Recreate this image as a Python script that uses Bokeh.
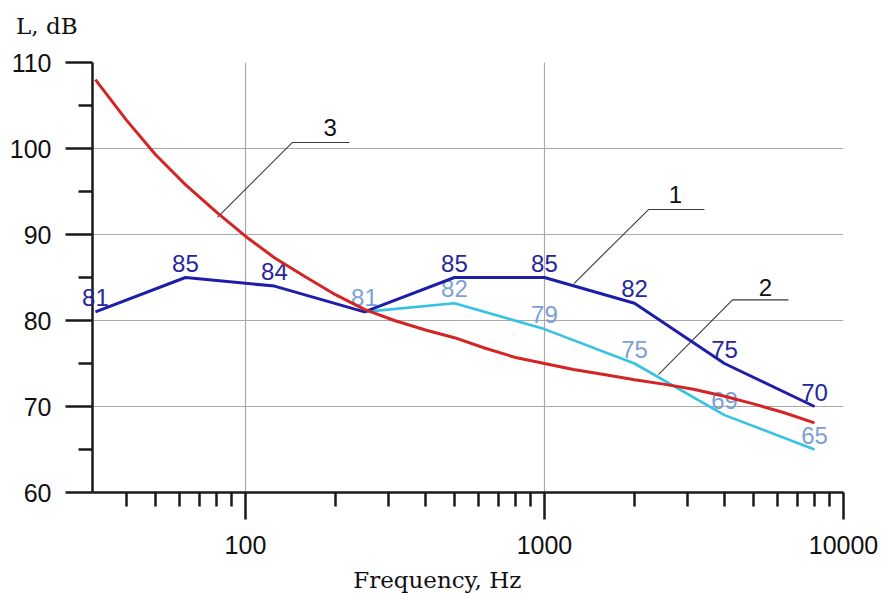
from bokeh.plotting import figure
from bokeh.models import (FixedTicker, BasicTickFormatter, ColumnDataSource,
                          LabelSet, Label, Range1d)
from bokeh.core.properties import value
from bokeh.embed import file_html
from bokeh.resources import INLINE

# ---- data -------------------------------------------------------------
# curve 1
freq_1 = [31.5, 63, 125, 250, 500, 1000, 2000, 4000, 8000]
level_1 = [81, 85, 84, 81, 85, 85, 82, 75, 70]
labels_1 = ["81", "85", "84", "", "85", "85", "82", "75", "70"]
# curve 2
freq_2 = [250, 500, 1000, 2000, 4000, 8000]
level_2 = [81, 82, 79, 75, 69, 65]
labels_2 = ["81", "82", "79", "75", "69", "65"]
# curve 3
freq_3 = [31.5, 40, 50, 63, 80, 100, 125, 160, 200, 250, 315, 400, 500, 630,
          800, 1000, 1250, 1600, 2000, 2500, 3150, 4000, 5000, 6300, 8000]
level_3 = [108, 103.3, 99.3, 95.8, 92.6, 89.8, 87.3, 85.0, 83.0, 81.3, 80.0,
           78.9, 78.0, 76.8, 75.7, 75.0, 74.3, 73.7, 73.1, 72.6, 72.0, 71.2,
           70.3, 69.3, 68.1]

# ticks
x_major = [100, 1000, 10000]
x_minor = [40, 50, 60, 70, 80, 90, 200, 300, 400, 500, 600, 700, 800, 900,
           2000, 3000, 4000, 5000, 6000, 7000, 8000, 9000]
y_major = [60, 70, 80, 90, 100, 110]
y_minor = [65, 75, 85, 95, 105]

# leader callouts (curve number, anchor on curve, elbow, end) in data units
leader_names = ["3", "1", "2"]
leader_x = [[80.6, 143.6, 222.8], [1255, 2228, 3428], [2404, 4254, 6547]]
leader_y = [[92.0, 100.7, 100.7], [84.3, 92.9, 92.9], [73.7, 82.4, 82.4]]
leader_text_x = [192, 2742, 5483]
leader_text_y = [102.5, 94.7, 83.85]

# axis titles (anchor positions in data units)
y_title = "L, dB"
y_title_pos = (17.1, 114.3)
x_title = "Frequency, Hz"
x_title_pos = (438, 49.8)

# ---- figure -----------------------------------------------------------
p = figure(width=881, height=593, x_axis_type="log",
           x_range=Range1d(30.8, 10000), y_range=Range1d(60, 110),
           output_backend="svg", toolbar_location=None, title=None,
           min_border_left=92, min_border_right=38,
           min_border_top=62, min_border_bottom=101)
p.outline_line_color = None
p.background_fill_color = "white"
p.border_fill_color = "white"

for ax, maj, mn in ((p.xaxis[0], x_major, x_minor), (p.yaxis[0], y_major, y_minor)):
    ax.ticker = FixedTicker(ticks=maj, minor_ticks=mn)
    ax.formatter = BasicTickFormatter(use_scientific=False)
    ax.axis_line_color = "#1a1a1a"
    ax.axis_line_width = 2.5
    ax.major_tick_line_color = "#1a1a1a"
    ax.major_tick_line_width = 2.5
    ax.minor_tick_line_color = "#1a1a1a"
    ax.minor_tick_line_width = 2.5
    ax.major_tick_out = 27
    ax.major_tick_in = 0
    ax.minor_tick_out = 14
    ax.minor_tick_in = 0
    ax.major_label_text_font = "Liberation Sans"
    ax.major_label_text_font_size = "25px"
    ax.major_label_text_color = "#111111"

p.yaxis.major_label_standoff = 14
p.xaxis.major_label_standoff = 16

p.xgrid.grid_line_color = "#a9a9a9"
p.ygrid.grid_line_color = "#a9a9a9"
p.xgrid.grid_line_width = 1.2
p.ygrid.grid_line_width = 1.2

# curve value labels (below the lines)
src1 = ColumnDataSource(dict(x=freq_1[1:], y=level_1[1:], t=labels_1[1:]))
src2 = ColumnDataSource(dict(x=freq_2, y=level_2, t=labels_2))
for src, col in ((src2, "#7d9fd8"), (src1, "#26269c")):
    p.add_layout(LabelSet(x="x", y="y", text="t", source=src, y_offset=6,
                          text_align="center", text_baseline="alphabetic",
                          text_font=value("Liberation Sans"),
                          text_font_size=value("24px"),
                          text_color=value(col), level="underlay"))
# first value label straddles the y axis: place it in a side panel so it is not clipped
p.add_layout(Label(x=freq_1[0], y=level_1[0], text=labels_1[0], y_offset=14,
                   text_align="center", text_baseline="middle",
                   text_font="Liberation Sans", text_font_size="24px",
                   text_color="#26269c"), "above")

# leaders
p.multi_line(xs=leader_x, ys=leader_y, line_color="#3a3a3a", line_width=1.1)
for name, tx, ty in zip(leader_names, leader_text_x, leader_text_y):
    p.add_layout(Label(x=tx, y=ty, text=name, text_align="center",
                       text_baseline="middle", text_font="Liberation Sans",
                       text_font_size="24px", text_color="#111111"))

# curves
p.line(freq_2, level_2, line_color="#36c3e3", line_width=2.6)
p.line(freq_1, level_1, line_color="#1e1ea8", line_width=3)
p.line(freq_3, level_3, line_color="#d42424", line_width=3)

# axis titles
p.add_layout(Label(x=y_title_pos[0], y=y_title_pos[1], text=y_title,
                   text_align="left", text_baseline="middle",
                   text_font="DejaVu Serif", text_font_size="23px",
                   text_color="#111111"), "above")
p.add_layout(Label(x=x_title_pos[0], y=x_title_pos[1], text=x_title,
                   text_align="center", text_baseline="middle",
                   text_font="DejaVu Serif", text_font_size="23px",
                   text_color="#111111"), "below")

open("out.html", "w").write(file_html(p, INLINE))
